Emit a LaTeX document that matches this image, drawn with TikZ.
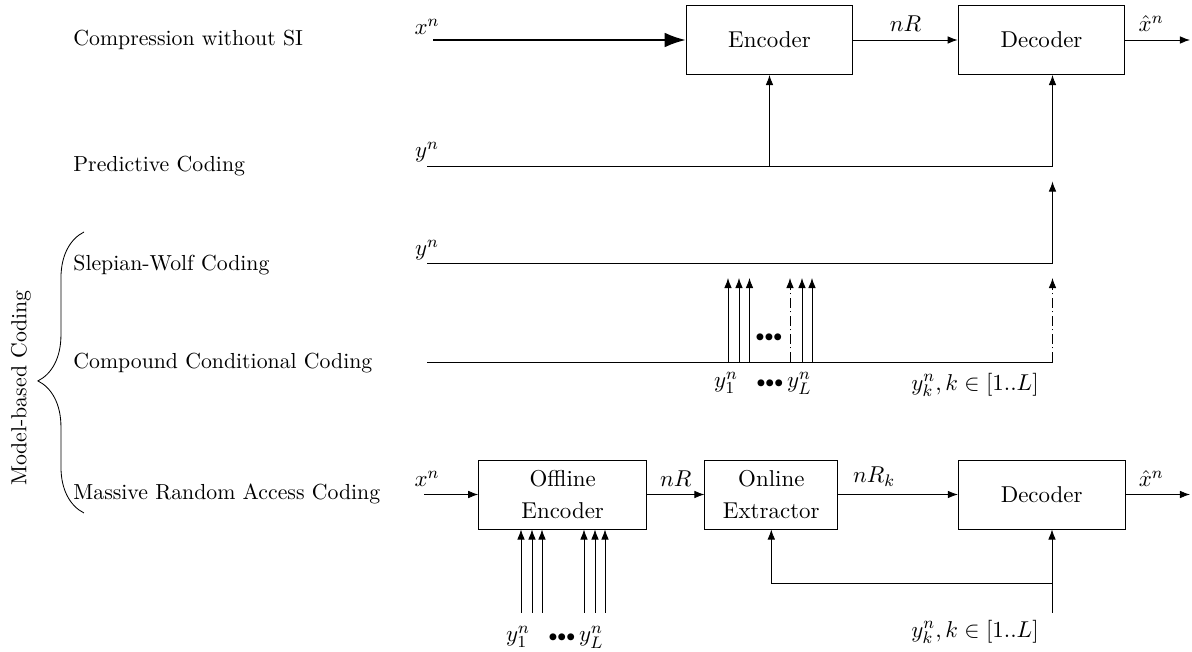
\documentclass[tikz,border=0pt,11pt]{standalone}
\usetikzlibrary{arrows.meta, positioning, calc, decorations.pathreplacing}
\newcommand{\rowfont}{\fontsize{10.4}{12.5}\selectfont}
\newcommand{\smalldots}{{\scriptstyle\bullet\bullet\bullet}}
\tikzset{
  block/.style={draw, minimum width=2.8cm, minimum height=1.16cm, align=center, inner sep=2pt},
  rowlabel/.style={anchor=west, inner sep=0pt, font=\rowfont},
  sig/.style={inner sep=1pt},
  sidedash/.style={dash pattern=on 5pt off 1.5pt on 0.6pt off 1.5pt},
}

\begin{document}
\begin{tikzpicture}[x=0.016779cm, y=-0.016779cm, >=Latex]
  \useasboundingbox (0,0) rectangle (1192,652);

  % row labels and brace
  \node[rowlabel] (lcomp) at (73,40) {Compression without SI};
  \node[rowlabel] (lpred) at (73,166) {Predictive Coding};
  \node[rowlabel] (lsw) at (73,265) {Slepian-Wolf Coding};
  \node[rowlabel] (lccc) at (73,363) {Compound Conditional Coding};
  \node[rowlabel] (lmra) at (73,494) {Massive Random Access Coding};
  \node[rotate=90, font=\rowfont] (lmodel) at (21,388) {Model-based Coding};
  \draw[decorate, decoration={brace, amplitude=22pt, aspect=0.47}] (84,513) -- (84,232);

  % compression without SI
  \node[block] (enc) at (769.5,40) {Encoder};
  \node[block] (dec) at (1041.5,40) {Decoder};
  \coordinate (xin) at (433,40);
  \coordinate (xout) at (1190,40);
  \node[sig] (xlab) at (427,27) {$x^n$};
  \draw[->, line width=0.9pt, >={Latex[length=10pt,width=7pt]}] (xin) -- (enc);
  \draw[->] (enc) -- node[above] (rate) {$nR$} (dec);
  \draw[->] (dec) -- node[above, pos=0.4] (xhat) {$\hat{x}^n$} (xout);

  % predictive coding
  \node[sig] (ypred) at (427,152) {$y^n$};
  \coordinate (yp) at (427,166);
  \coordinate (ypc) at (1052.5,166);
  \draw[->] (yp) -- (ypc) -- (ypc |- dec.south);
  \draw[->] (enc.south |- yp) -- (enc.south);

  % slepian-wolf
  \node[sig] (ysw) at (427,250) {$y^n$};
  \coordinate (ys) at (427,263.5);
  \coordinate (ysc) at (1052.5,263.5);
  \draw[->] (ys) -- (ysc) -- ++(0,-82);

  % compound conditional
  \coordinate (yc) at (427,362);
  \coordinate (ycc) at (1052.5,362);
  \draw (yc) -- (ycc);
  \draw[->, sidedash] (ycc) -- ++(0,-84);
  \foreach \xx [count=\i] in {728,739,749.5,802,812}{
    \coordinate (cc\i) at (\xx,362);
    \draw[->] (cc\i) -- ++(0,-84);
  }
  \coordinate (cd) at (790,362);
  \draw[->, sidedash] (cd) -- ++(0,-84);
  \node[sig] (cdots) at (769,338) {$\smalldots$};
  \node[sig] (y1c) at (726,383) {$y_1^n$};
  \node[sig] (yLc) at (784,383) {$\smalldots\,y_L^n$};
  \node[sig] (ykc) at (975,385) {$y_k^n, k\in[1..L]$};

  % massive random access
  \node[block, minimum width=2.82cm] (offenc) at (562.7,494.5) {Offline\\[1.5pt]Encoder};
  \node[block, minimum width=2.23cm] (ext) at (771.3,494.5) {Online\\[1.5pt]Extractor};
  \node[block] (dec2) at (1041.7,494.5) {Decoder};
  \coordinate (xin2) at (424,494.5);
  \coordinate (xout2) at (1190,494.5);
  \node[sig] (xlab2) at (427,479) {$x^n$};
  \draw[->] (xin2) -- (offenc);
  \draw[->] (offenc) -- node[above] (rate2) {$nR$} (ext);
  \draw[->] (ext) -- node[above, pos=0.3] (ratek) {$nR_k$} (dec2);
  \draw[->] (dec2) -- node[above, pos=0.4] (xhat2) {$\hat{x}^n$} (xout2);
  \foreach \xx [count=\i] in {521,532,542,584,595,605}{
    \coordinate (sa\i) at (\xx,613);
    \draw[->] (sa\i) -- (sa\i |- offenc.south);
  }
  \node[sig] (y1b) at (518,637) {$y_1^n$};
  \node[sig] (yLb) at (576,637) {$\smalldots\,y_L^n$};
  \coordinate (ykb) at (1052,613);
  \coordinate (fb) at (1052,583);
  \draw[->] (ykb) -- (ykb |- dec2.south);
  \draw[->] (fb) -| (ext.south);
  \node[sig] (ykl) at (975,632) {$y_k^n, k\in[1..L]$};
\end{tikzpicture}
\end{document}
